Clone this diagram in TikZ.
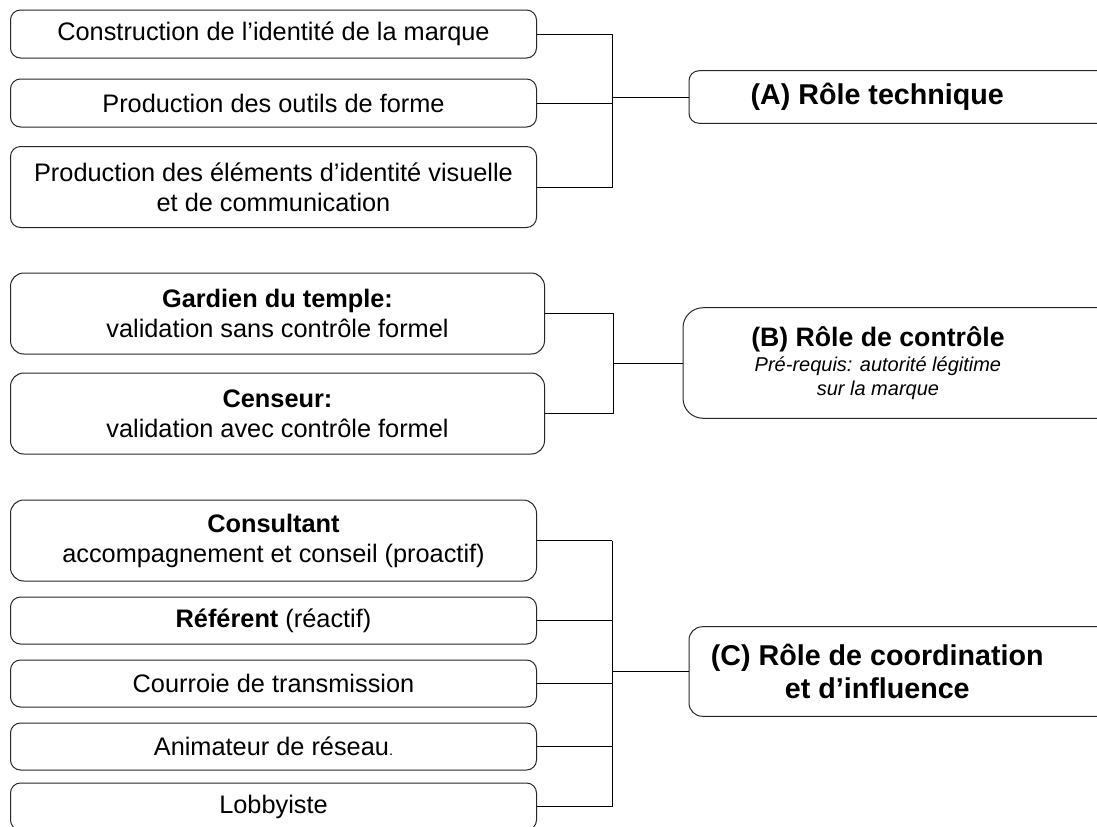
\documentclass[tikz,border=0pt]{standalone}
\usepackage{fontspec}
\setmainfont{Liberation Sans}
\usetikzlibrary{positioning}

\begin{document}
\begin{tikzpicture}[x=0.75pt,y=0.75pt,yscale=-1,
        leaf/.style={draw=black!85, line width=0.75pt, rounded corners=7.5pt, anchor=west, inner sep=0pt, minimum width=394.5pt, align=center, font=\fontsize{19}{22.5}\selectfont},
        role/.style={anchor=west, inner sep=0pt, minimum width=282pt, align=center, font=\fontsize{21.5}{25}\selectfont\bfseries},
        frame/.style={draw=black!85, line width=0.75pt, rounded corners=7.5pt},
        link/.style={line width=0.75pt}]
        \useasboundingbox (0,0) rectangle (1097,826);
        \clip (0,0) rectangle (1097,826);
        
        %(A) Role technique
        \node [leaf, minimum height=36pt] (identite) at (10,34) {Construction de l’identité de la marque};
        \node [leaf, minimum height=36pt] (outils) at (10,103) {Production des outils de forme};
        \node [leaf, minimum height=60.75pt] (visuel) at (10,187) {Production des éléments d’identité visuelle\\et de communication};
        \node [role, minimum height=39pt] (roleA) at (689,97) {(A) Rôle technique};
        \draw [frame] (roleA.north east) ++(60,0) -- (roleA.north west) -- (roleA.south west) -- ([xshift=60]roleA.south east);
        \coordinate (busA) at (612.5,97);
        
        %(B) Role de controle
        \node [leaf, minimum width=400.5pt, minimum height=60.75pt, rounded corners=10pt] (gardien) at (10,313.5) {\textbf{Gardien du temple:}\\validation sans contrôle formel};
        \node [leaf, minimum width=400.5pt, minimum height=60.75pt, rounded corners=10pt] (censeur) at (10,413.5) {\textbf{Censeur:}\\validation avec contrôle formel};
        \node [role, minimum width=292pt, minimum height=82.5pt, font=\fontsize{20}{18}\selectfont\bfseries] (roleB) at (683,363)
            {(B) Rôle de contrôle\\[1pt]\fontsize{15}{17}\selectfont\mdseries\itshape Pré-requis: autorité légitime\\\fontsize{15}{17}\selectfont\mdseries\itshape sur la marque};
        \draw [frame, rounded corners=15pt] (roleB.north east) ++(60,0) -- (roleB.north west) -- (roleB.south west) -- ([xshift=60]roleB.south east);
        \coordinate (busB) at (613.5,363);
        
        %(C) Role de coordination
        \node [leaf, minimum height=60.75pt, rounded corners=10pt] (consultant) at (10,540.5) {\textbf{Consultant}\\accompagnement et conseil (proactif)};
        \node [leaf, minimum height=35.25pt] (referent) at (10,620.5) {\textbf{Référent} (réactif)};
        \node [leaf, minimum height=35.25pt] (courroie) at (10,683.5) {Courroie de transmission};
        \node [leaf, minimum height=35.25pt] (animateur) at (10,746.5) {Animateur de réseau{\fontsize{11}{13}\selectfont.}};
        \node [leaf, minimum height=35.25pt] (lobby) at (10,806.5) {Lobbyiste};
        \node [role, minimum height=66.75pt] (roleC) at (689,671.5) {(C) Rôle de coordination\\et d’influence};
        \draw [frame, rounded corners=10pt] (roleC.north east) ++(60,0) -- (roleC.north west) -- (roleC.south west) -- ([xshift=60]roleC.south east);
        \coordinate (busC) at (612,671.5);
        
        %Connectors
        \foreach \n in {identite,outils,visuel} \draw [link] (\n.east) -- (\n.east -| busA);
        \draw [link] (identite.east -| busA) -- (visuel.east -| busA);
        \draw [link] (busA) -- (roleA.west);
        \foreach \n in {gardien,censeur} \draw [link] (\n.east) -- (\n.east -| busB);
        \draw [link] (gardien.east -| busB) -- (censeur.east -| busB);
        \draw [link] (busB) -- (roleB.west);
        \foreach \n in {consultant,referent,courroie,animateur,lobby} \draw [link] (\n.east) -- (\n.east -| busC);
        \draw [link] (consultant.east -| busC) -- (lobby.east -| busC);
        \draw [link] (busC) -- (roleC.west);
        
\end{tikzpicture}
\end{document}
